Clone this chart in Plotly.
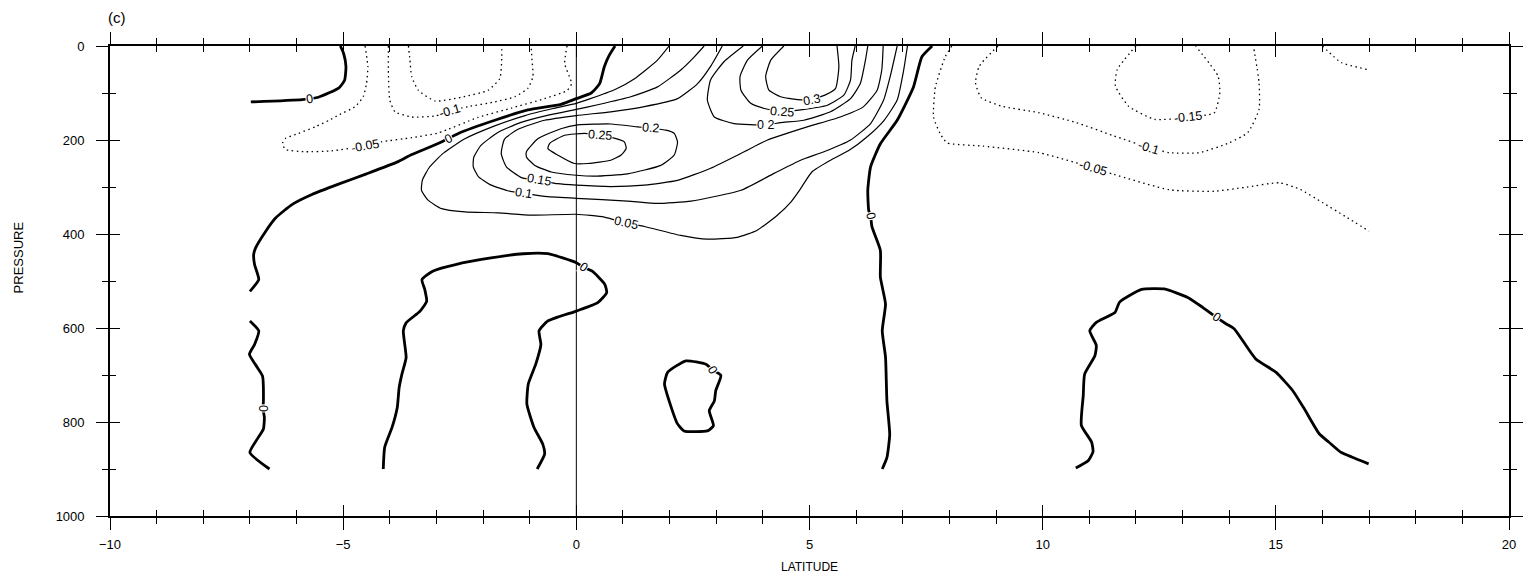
import plotly.graph_objects as go

# ---------------- contour lines: latitude (deg) and pressure (hPa) ----------------
# zero contours
zero_nw_lat = [-5.06, -4.99, -4.94, -4.97, -5.09, -5.53, -5.88, -6.98]
zero_nw_p = [0, 16, 44, 73, 89, 109, 114, 119]

zero_jet_lat = [0.83, 0.71, 0.6, 0.5, 0.32, 0.0, -0.33, -1.04, -1.75, -2.53, -2.93, -3.53,
                -3.82, -4.5, -5.1, -5.67, -6.09, -6.45, -6.66, -6.88, -6.92, -6.9, -6.81, -7.0]
zero_jet_p = [0, 19, 44, 80, 100, 112, 124, 136, 158, 186, 206, 231,
              246, 272, 294, 316, 337, 366, 394, 430, 444, 465, 497, 522]

zero_w7_lat = [-7.0, -6.81, -6.9, -7.01, -6.84, -6.73, -6.71, -6.72, -6.69, -6.71, -6.84, -7.0, -6.58]
zero_w7_p = [585, 606, 635, 656, 684, 702, 755, 772, 790, 815, 836, 865, 900]

zero_eq_lat = [-4.14, -4.11, -3.95, -3.84, -3.8, -3.74, -3.65, -3.71, -3.65, -3.35, -3.21, -3.25,
               -3.31, -3.08, -2.59, -1.83, -1.14, -0.61, 0.0, 0.15, 0.34, 0.61, 0.65, 0.46,
               0.0, -0.61, -0.8, -0.76, -0.87, -1.03, -1.06, -0.91, -0.72, -0.68, -0.84]
zero_eq_p = [900, 854, 811, 769, 727, 698, 663, 606, 589, 564, 543, 518,
             497, 479, 465, 451, 442, 442, 461, 471, 479, 507, 525, 546,
             564, 585, 606, 635, 677, 719, 762, 811, 847, 868, 900]

zero_loop_lat = [2.78, 2.35, 1.96, 1.89, 1.99, 2.17, 2.31, 2.81, 2.94, 2.85, 2.96, 2.99, 3.1, 2.92, 2.78]
zero_loop_p = [677, 670, 694, 719, 755, 804, 819, 819, 808, 776, 755, 733, 701, 689, 677]

zero_e6_lat = [7.63, 7.41, 7.23, 6.88, 6.52, 6.31, 6.25, 6.27, 6.31, 6.34, 6.52, 6.52,
               6.63, 6.56, 6.63, 6.66, 6.72, 6.66, 6.56]
zero_e6_p = [0, 23, 87, 158, 208, 257, 307, 350, 362, 385, 435, 492,
             549, 606, 662, 755, 826, 876, 900]

zero_e12_lat = [10.71, 10.98, 11.08, 11.05, 10.83, 10.87, 10.9, 11.12, 11.15, 11.01, 11.15, 11.55,
                11.65, 12.12, 12.61, 13.11, 13.43, 13.72, 13.93, 14.11, 14.57, 15.0, 15.36,
                15.61, 15.93, 16.14, 16.39, 16.64, 16.99]
zero_e12_p = [898, 882, 863, 843, 807, 744, 698, 659, 637, 606, 588, 567,
              545, 518, 517, 535, 556, 577, 591, 602, 666, 694, 733,
              772, 825, 843, 864, 875, 889]

# positive contours
pos05_lat = [1.99, 1.74, 1.24, 0.82, 0.3, 0.0, -0.5, -1.1, -1.75, -2.4, -2.85, -3.15, -3.3, -3.32,
             -3.18, -2.89, -2.39, -1.68, -0.97, 0.0, 0.6, 1.07, 1.46, 2.24, 2.81, 3.45, 3.88,
             4.31, 4.6, 4.8, 5.05, 5.45, 5.85, 6.25, 6.6, 6.88, 7.02, 7.1]
pos05_p = [0, 30, 70, 93, 112, 122, 133, 148, 170, 198, 228, 258, 285, 307,
           328, 346, 353, 355, 360, 358, 364, 377, 384, 403, 411, 407, 392,
           360, 332, 305, 268, 243, 222, 192, 158, 115, 51, 0]

pos10_lat = [2.74, 2.53, 2.24, 1.74, 1.17, 0.46, 0.0, -0.6, -1.2, -1.7, -2.05, -2.2, -2.21, -2.1,
             -1.85, -1.47, -1.14, -0.68, 0.0, 1.1, 1.74, 2.46, 3.53, 4.24, 4.81, 5.31, 5.88,
             6.31, 6.59, 6.73, 6.88]
pos10_p = [0, 23, 51, 87, 108, 125, 135, 147, 163, 185, 212, 237, 257, 278,
           295, 308, 313, 320, 324, 330, 335, 330, 307, 271, 243, 225, 200,
           165, 115, 65, 0]

pos15_lat = [3.13, 2.9, 2.6, 2.17, 1.46, 0.74, 0.0, -0.68, -1.25, -1.54, -1.61, -1.5, -1.18, -0.79,
             -0.4, 0.0, 0.74, 1.46, 2.17, 2.88, 3.6, 4.1, 4.95, 5.66, 6.16, 6.45, 6.55, 6.58]
pos15_p = [0, 40, 80, 112, 129, 140, 148, 158, 177, 198, 229, 257, 280, 286,
           293, 296, 299, 296, 286, 260, 225, 200, 172, 151, 129, 94, 51, 0]

pos20_ring_lat = [1.31, 0.74, 0.03, -0.33, -0.82, -1.07, -1.07, -0.89, -0.54, 0.0, 0.39, 1.1,
                  1.81, 2.1, 2.17, 2.1, 1.92, 1.6, 1.31]
pos20_ring_p = [172, 166, 168, 176, 197, 225, 236, 254, 268, 275, 277, 272,
                254, 232, 204, 186, 179, 175, 172]

pos20_top_lat = [3.58, 3.17, 2.88, 2.81, 2.96, 3.38, 4.06, 4.38, 4.88, 5.45, 5.88, 6.09, 6.2, 6.25]
pos20_top_p = [0, 33, 72, 115, 151, 165, 168, 163, 158, 140, 112, 80, 30, 0]

pos25_ring_lat = [0.85, 1.03, 1.07, 0.96, 0.74, 0.25, -0.04, -0.4, -0.61, -0.57, -0.25, 0.18, 0.5, 0.85]
pos25_ring_p = [197, 204, 218, 232, 243, 250, 250, 232, 218, 207, 190, 186, 190, 197]

pos25_top_lat = [3.99, 3.67, 3.51, 3.53, 3.74, 4.03, 4.42, 4.81, 5.38, 5.74, 5.88, 5.91, 5.98]
pos25_top_p = [0, 30, 65, 94, 122, 133, 140, 136, 126, 104, 72, 30, 0]

pos30_lat = [4.45, 4.17, 4.06, 4.13, 4.38, 4.74, 5.04, 5.34, 5.56, 5.63, 5.59]
pos30_p = [0, 30, 65, 94, 108, 114, 114, 104, 90, 44, 0]

# negative contours
neg05_w_lat = [-4.53, -4.47, -4.5, -4.57, -4.74, -5.1, -5.3, -5.6, -5.96, -6.24, -6.3, -6.24,
               -5.81, -5.25, -4.53, -4.18, -3.53, -2.96, -2.11, -1.39, -0.68, -0.2, -0.1,
               -0.15, -0.25, -0.2]
neg05_w_p = [0, 44, 80, 108, 129, 147, 158, 172, 186, 197, 207, 220,
             225, 223, 213, 204, 195, 185, 152, 132, 112, 95, 80,
             65, 37, 0]

neg10_w_lat = [-4.03, -4.03, -4.0, -3.89, -3.53, -3.03, -2.71, -2.32, -1.75, -1.32, -1.04, -0.93, -0.95, -0.97]
neg10_w_p = [0, 60, 115, 140, 151, 149, 138, 129, 119, 108, 90, 65, 30, 0]

neg15_w_lat = [-3.6, -3.57, -3.53, -3.39, -3.03, -2.46, -1.89, -1.64, -1.6, -1.6]
neg15_w_p = [0, 28, 65, 94, 117, 109, 94, 69, 28, 0]

neg05_e_lat = [8.05, 7.91, 7.7, 7.66, 7.8, 7.95, 8.72, 9.92, 11.08, 11.52, 12.72, 13.68,
               14.32, 15.08, 15.52, 16.0, 16.48, 17.0]
neg05_e_p = [0, 23, 87, 151, 186, 206, 213, 227, 259, 273, 306, 309,
             301, 291, 305, 333, 362, 394]

neg10_e_lat = [9.04, 8.64, 8.56, 8.68, 9.12, 9.92, 10.72, 11.52, 12.28, 12.72, 13.36, 14.0,
               14.4, 14.64, 14.64, 14.52]
neg10_e_p = [0, 43, 78, 110, 128, 142, 163, 191, 216, 227, 227, 206,
             184, 135, 78, 0]

neg15_e_lat = [12.0, 11.6, 11.56, 11.84, 12.4, 13.12, 13.68, 13.8, 13.76, 13.28]
neg15_e_p = [0, 50, 85, 128, 156, 152, 142, 99, 64, 0]

neg05_ne_lat = [16.0, 16.4, 16.96]
neg05_ne_p = [0, 35, 50]

# contour labels
label_text = ["0", "-0.05", "-0.1", "0", "0.25", "0.2", "0.15", "0.1", "0.05",
              "0.3", "0.25", "0 2", "0", "0", "0", "0", "0",
              "-0.15", "-0.1", "-0.05"]
label_lat = [-5.72, -4.53, -2.71, -2.75, 0.5, 1.6, -0.79, -1.14, 1.07,
             5.04, 4.42, 4.06, 6.31, 0.15, 2.92, -6.72, 13.72,
             13.12, 12.28, 11.08]
label_p = [112, 213, 138, 197, 190, 175, 286, 313, 377,
           114, 140, 168, 362, 471, 689, 772, 577,
           152, 216, 259]

# axis ticks
x_ticks = [-10, -5, 0, 5, 10, 15, 20]
y_ticks = [0, 200, 400, 600, 800, 1000]

# ---------------- styling ----------------
FONT = "Liberation Sans, Arial, Helvetica, sans-serif"
label_angle = [-8, -10, -16, -27, 4, 5, 10, 9, 13,
               -10, 4, 0, 80, 35, 60, 90, 35,
               -6, 17, 16]

line_style = {
    "zero": dict(color="black", width=2.8),
    "pos": dict(color="black", width=1.2),
    "neg": dict(color="black", width=1.3, dash="1.5px,3.5px"),
}

contours = [
    (zero_nw_lat, zero_nw_p, "zero"),
    (zero_jet_lat, zero_jet_p, "zero"),
    (zero_w7_lat, zero_w7_p, "zero"),
    (zero_eq_lat, zero_eq_p, "zero"),
    (zero_loop_lat, zero_loop_p, "zero"),
    (zero_e6_lat, zero_e6_p, "zero"),
    (zero_e12_lat, zero_e12_p, "zero"),
    (pos05_lat, pos05_p, "pos"),
    (pos10_lat, pos10_p, "pos"),
    (pos15_lat, pos15_p, "pos"),
    (pos20_ring_lat, pos20_ring_p, "pos"),
    (pos20_top_lat, pos20_top_p, "pos"),
    (pos25_ring_lat, pos25_ring_p, "pos"),
    (pos25_top_lat, pos25_top_p, "pos"),
    (pos30_lat, pos30_p, "pos"),
    (neg05_w_lat, neg05_w_p, "neg"),
    (neg10_w_lat, neg10_w_p, "neg"),
    (neg15_w_lat, neg15_w_p, "neg"),
    (neg05_e_lat, neg05_e_p, "neg"),
    (neg10_e_lat, neg10_e_p, "neg"),
    (neg15_e_lat, neg15_e_p, "neg"),
    (neg05_ne_lat, neg05_ne_p, "neg"),
]

fig = go.Figure()

for lat, p, kind in contours:
    fig.add_trace(go.Scatter(
        x=lat, y=p, mode="lines",
        line=dict(shape="spline", smoothing=0.5, **line_style[kind]),
        hoverinfo="skip", showlegend=False,
    ))

# dummy trace so the overlaid tick axes are drawn
fig.add_trace(go.Scatter(x=[None], y=[None], xaxis="x2", yaxis="y2",
                         mode="markers", showlegend=False, hoverinfo="skip"))

# equator reference line
fig.add_shape(type="line", x0=0, x1=0, y0=0, y1=1000, xref="x", yref="y",
              line=dict(color="black", width=1))

for txt, la, pr, ang in zip(label_text, label_lat, label_p, label_angle):
    fig.add_annotation(x=la, y=pr, xref="x", yref="y", text=txt, showarrow=False,
                       textangle=ang, bgcolor="white", borderpad=0,
                       font=dict(family=FONT, size=12.5, color="black"))

tick_font = dict(family=FONT, size=13, color="black")
common = dict(showgrid=False, zeroline=False, tickcolor="black")

fig.update_layout(
    width=1535, height=577,
    margin=dict(l=110, r=21, t=46, b=61),
    paper_bgcolor="white", plot_bgcolor="white",
    xaxis=dict(range=[-10, 20], tickmode="array", tickvals=x_ticks,
               ticks="outside", ticklen=12, tickwidth=1.4,
               minor=dict(tickmode="linear", tick0=0, dtick=1, ticks="outside",
                          ticklen=6, tickwidth=1.3, tickcolor="black"),
               showline=True, linecolor="black", linewidth=1.7, mirror="ticks",
               tickfont=tick_font, ticklabelstandoff=4, **common),
    xaxis2=dict(range=[-10, 20], overlaying="x", anchor="y2", side="bottom",
                tickmode="array", tickvals=x_ticks,
                ticks="inside", ticklen=11, tickwidth=1.4,
                minor=dict(tickmode="linear", tick0=0, dtick=1, ticks="inside",
                           ticklen=6, tickwidth=1.3, tickcolor="black"),
                showticklabels=False, showline=False, mirror="ticks", **common),
    yaxis=dict(range=[1000, 0], tickmode="array", tickvals=y_ticks,
               ticks="outside", ticklen=12, tickwidth=1.4,
               minor=dict(tickmode="linear", tick0=0, dtick=100, ticks="outside",
                          ticklen=6, tickwidth=1.3, tickcolor="black"),
               showline=True, linecolor="black", linewidth=1.7, mirror="ticks",
               tickfont=tick_font, ticklabelstandoff=9, **common),
    yaxis2=dict(range=[1000, 0], overlaying="y", anchor="x2", side="left",
                tickmode="array", tickvals=y_ticks,
                ticks="inside", ticklen=10, tickwidth=1.4,
                minor=dict(tickmode="linear", tick0=0, dtick=100, ticks="inside",
                           ticklen=6, tickwidth=1.3, tickcolor="black"),
                showticklabels=False, showline=False, mirror="ticks", **common),
    showlegend=False,
)

fig.add_annotation(text="PRESSURE", xref="paper", yref="paper", x=-0.0655, y=0.551,
                   textangle=-90, showarrow=False, xanchor="center", yanchor="middle",
                   font=dict(family=FONT, size=13, color="black"))
fig.add_annotation(text="LATITUDE", xref="paper", yref="paper", x=0.5, y=-0.108,
                   showarrow=False, xanchor="center", yanchor="middle",
                   font=dict(family=FONT, size=12, color="black"))
fig.add_annotation(text="(c)", xref="paper", yref="paper", x=-0.003, y=1.06,
                   showarrow=False, xanchor="left", yanchor="middle",
                   font=dict(family=FONT, size=15, color="black"))

fig.write_html("out.html")
